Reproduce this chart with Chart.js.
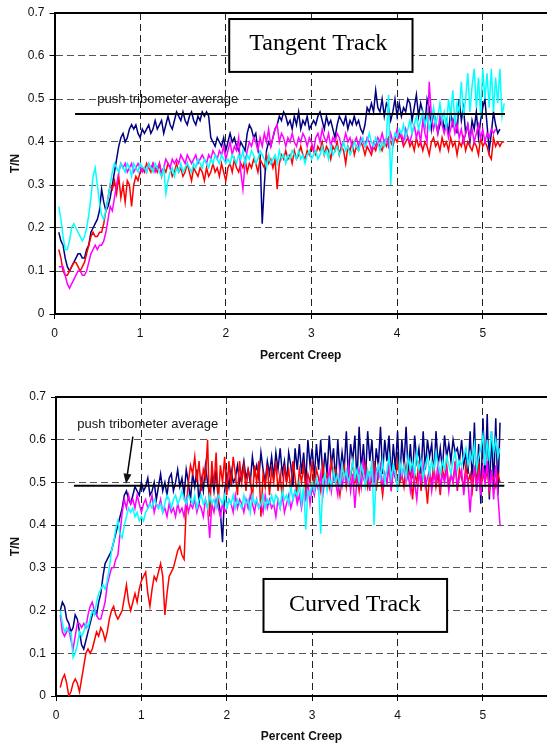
<!DOCTYPE html>
<html>
<head>
<meta charset="utf-8">
<script src="https://cdn.jsdelivr.net/npm/chart.js@4"></script>
<style>
  html, body { margin: 0; padding: 0; background: #fff; }
  .box { position: absolute; left: 0; width: 547px; height: 372px; }
</style>
</head>
<body>
<div class="box" style="top:0"><canvas id="tangent"></canvas></div>
<div class="box" style="top:372px"><canvas id="curved"></canvas></div>
<script>
// sampling of percent creep (x) for every series
const creepStart = 0.05;
const creepStep = 0.025;

// Tangent track, T/N (one row = 0.5 % creep)
const tangentNavy = [
  0.19,0.17,0.16,0.13,0.11,0.10,0.11,0.12,0.13,0.14,0.14,0.13,0.13,0.15,0.16,0.19,0.20,0.21,0.22,0.24,
  0.29,0.26,0.24,0.25,0.27,0.30,0.33,0.36,0.39,0.41,0.42,0.40,0.41,0.43,0.44,0.43,0.44,0.42,0.41,0.43,
  0.42,0.43,0.44,0.42,0.43,0.45,0.43,0.44,0.45,0.42,0.44,0.46,0.44,0.43,0.45,0.47,0.46,0.45,0.47,0.45,
  0.44,0.46,0.47,0.45,0.44,0.46,0.45,0.47,0.46,0.47,0.46,0.41,0.40,0.39,0.41,0.40,0.39,0.41,0.38,0.40,
  0.42,0.40,0.41,0.39,0.38,0.40,0.39,0.38,0.42,0.44,0.43,0.41,0.42,0.38,0.37,0.21,0.30,0.38,0.40,0.39,
  0.41,0.43,0.44,0.46,0.45,0.47,0.46,0.44,0.45,0.43,0.46,0.44,0.47,0.43,0.45,0.44,0.46,0.43,0.44,0.45,
  0.44,0.46,0.47,0.45,0.43,0.46,0.44,0.45,0.43,0.41,0.44,0.46,0.45,0.44,0.46,0.43,0.45,0.44,0.46,0.44,
  0.45,0.43,0.42,0.44,0.48,0.47,0.49,0.47,0.52,0.48,0.47,0.50,0.46,0.49,0.48,0.45,0.47,0.50,0.46,0.49,
  0.46,0.48,0.47,0.50,0.49,0.45,0.48,0.51,0.46,0.49,0.47,0.44,0.50,0.48,0.43,0.47,0.45,0.42,0.44,0.46,
  0.43,0.45,0.42,0.47,0.44,0.46,0.42,0.50,0.45,0.48,0.42,0.44,0.40,0.45,0.43,0.47,0.41,0.45,0.48,0.50,
  0.44,0.38,0.42,0.47,0.44,0.42,0.43];
const tangentMagenta = [
  0.11,0.11,0.11,0.09,0.07,0.06,0.07,0.08,0.09,0.10,0.10,0.09,0.09,0.10,0.12,0.14,0.15,0.16,0.15,0.16,
  0.16,0.17,0.19,0.22,0.25,0.24,0.27,0.30,0.33,0.35,0.34,0.35,0.33,0.34,0.35,0.33,0.34,0.35,0.34,0.33,
  0.34,0.33,0.35,0.34,0.35,0.33,0.34,0.35,0.33,0.34,0.36,0.35,0.34,0.36,0.35,0.36,0.35,0.37,0.36,0.35,
  0.37,0.36,0.35,0.36,0.37,0.35,0.36,0.37,0.36,0.35,0.37,0.36,0.38,0.37,0.36,0.38,0.37,0.39,0.36,0.38,
  0.40,0.37,0.39,0.38,0.41,0.33,0.29,0.35,0.38,0.40,0.39,0.41,0.40,0.38,0.41,0.39,0.42,0.40,0.43,0.39,
  0.41,0.43,0.44,0.40,0.42,0.41,0.39,0.41,0.40,0.42,0.40,0.39,0.41,0.40,0.42,0.41,0.39,0.41,0.40,0.38,
  0.41,0.42,0.40,0.43,0.41,0.40,0.42,0.39,0.41,0.40,0.42,0.41,0.39,0.40,0.42,0.40,0.41,0.39,0.40,0.41,
  0.39,0.41,0.40,0.39,0.41,0.40,0.38,0.40,0.39,0.41,0.40,0.42,0.40,0.41,0.39,0.42,0.40,0.41,0.43,0.41,
  0.42,0.40,0.43,0.41,0.40,0.42,0.44,0.41,0.43,0.40,0.45,0.42,0.40,0.54,0.46,0.43,0.45,0.42,0.46,0.44,
  0.42,0.44,0.41,0.43,0.45,0.42,0.44,0.41,0.43,0.40,0.42,0.44,0.41,0.43,0.40,0.42,0.44,0.41,0.43,0.40,
  0.42,0.41,0.43,0.42,0.43];
const tangentRed = [
  0.15,0.13,0.10,0.09,0.09,0.10,0.11,0.12,0.12,0.11,0.10,0.11,0.12,0.14,0.16,0.18,0.19,0.18,0.18,0.19,
  0.19,0.21,0.24,0.27,0.30,0.29,0.31,0.28,0.32,0.27,0.30,0.26,0.31,0.30,0.25,0.30,0.32,0.31,0.33,0.34,
  0.33,0.35,0.34,0.33,0.35,0.34,0.33,0.35,0.32,0.34,0.33,0.35,0.34,0.32,0.33,0.35,0.33,0.34,0.32,0.33,
  0.35,0.33,0.31,0.34,0.33,0.32,0.34,0.33,0.31,0.34,0.32,0.33,0.35,0.33,0.34,0.32,0.35,0.33,0.31,0.34,
  0.35,0.33,0.36,0.34,0.33,0.35,0.34,0.36,0.33,0.35,0.34,0.36,0.35,0.33,0.36,0.35,0.34,0.37,0.35,0.36,
  0.34,0.36,0.29,0.35,0.37,0.36,0.38,0.36,0.37,0.35,0.38,0.36,0.37,0.39,0.37,0.36,0.38,0.37,0.39,0.38,
  0.37,0.39,0.38,0.40,0.37,0.39,0.38,0.36,0.39,0.38,0.40,0.37,0.39,0.38,0.35,0.39,0.38,0.40,0.37,0.39,
  0.38,0.40,0.39,0.37,0.39,0.38,0.37,0.39,0.38,0.40,0.39,0.38,0.40,0.39,0.41,0.40,0.39,0.41,0.40,0.42,
  0.41,0.39,0.40,0.41,0.39,0.40,0.38,0.41,0.39,0.40,0.38,0.40,0.39,0.37,0.40,0.41,0.39,0.40,0.38,0.41,
  0.39,0.40,0.38,0.41,0.39,0.40,0.37,0.40,0.39,0.41,0.38,0.40,0.39,0.38,0.40,0.39,0.37,0.41,0.39,0.40,
  0.39,0.37,0.36,0.41,0.39,0.40,0.39,0.40,0.40];
const tangentCyan = [
  0.25,0.22,0.18,0.15,0.15,0.17,0.20,0.21,0.20,0.19,0.18,0.17,0.18,0.20,0.23,0.27,0.32,0.34,0.30,0.26,
  0.23,0.22,0.24,0.27,0.30,0.33,0.35,0.34,0.33,0.35,0.34,0.33,0.35,0.34,0.32,0.35,0.34,0.33,0.35,0.34,
  0.34,0.33,0.35,0.34,0.33,0.35,0.34,0.33,0.32,0.34,0.28,0.31,0.33,0.34,0.32,0.34,0.33,0.35,0.33,0.34,
  0.35,0.34,0.33,0.35,0.34,0.36,0.35,0.34,0.36,0.35,0.34,0.36,0.35,0.37,0.36,0.35,0.37,0.36,0.35,0.36,
  0.35,0.37,0.36,0.35,0.37,0.36,0.38,0.35,0.37,0.36,0.38,0.37,0.35,0.36,0.38,0.37,0.36,0.34,0.37,0.35,
  0.36,0.37,0.35,0.38,0.36,0.37,0.35,0.37,0.36,0.38,0.37,0.36,0.38,0.36,0.37,0.35,0.37,0.38,0.36,0.37,
  0.38,0.36,0.37,0.39,0.37,0.38,0.36,0.39,0.37,0.38,0.39,0.37,0.38,0.40,0.38,0.39,0.37,0.38,0.40,0.39,
  0.38,0.40,0.41,0.39,0.40,0.42,0.40,0.39,0.41,0.40,0.38,0.40,0.39,0.41,0.51,0.30,0.40,0.42,0.41,0.43,
  0.42,0.44,0.41,0.43,0.45,0.42,0.44,0.46,0.43,0.45,0.47,0.44,0.46,0.43,0.45,0.48,0.44,0.46,0.49,0.45,
  0.47,0.43,0.50,0.46,0.52,0.44,0.49,0.47,0.54,0.46,0.50,0.56,0.47,0.53,0.57,0.48,0.55,0.46,0.57,0.50,
  0.56,0.48,0.57,0.47,0.55,0.49,0.57,0.46,0.49];

// Curved track, T/N (one row = 0.5 % creep)
const curvedNavy = [
  0.20,0.22,0.21,0.18,0.17,0.15,0.16,0.19,0.18,0.15,0.12,0.11,0.13,0.15,0.17,0.19,0.20,0.19,0.22,0.24,
  0.28,0.31,0.32,0.33,0.34,0.36,0.38,0.40,0.42,0.44,0.47,0.48,0.46,0.45,0.47,0.49,0.48,0.47,0.50,0.48,
  0.49,0.51,0.47,0.48,0.50,0.46,0.49,0.52,0.48,0.50,0.47,0.51,0.52,0.48,0.50,0.53,0.49,0.51,0.47,0.53,
  0.50,0.46,0.52,0.49,0.53,0.45,0.51,0.48,0.54,0.50,0.47,0.52,0.48,0.53,0.46,0.43,0.36,0.48,0.52,0.49,
  0.53,0.50,0.51,0.54,0.50,0.52,0.55,0.51,0.53,0.50,0.56,0.52,0.54,0.51,0.57,0.53,0.50,0.55,0.52,0.56,
  0.51,0.57,0.53,0.58,0.52,0.55,0.50,0.57,0.54,0.49,0.58,0.53,0.59,0.52,0.57,0.50,0.60,0.54,0.58,0.51,
  0.59,0.53,0.60,0.51,0.57,0.52,0.61,0.54,0.58,0.50,0.60,0.52,0.57,0.53,0.62,0.51,0.59,0.55,0.61,0.50,
  0.63,0.53,0.59,0.51,0.62,0.55,0.60,0.50,0.58,0.54,0.63,0.52,0.60,0.55,0.61,0.51,0.59,0.53,0.62,0.50,
  0.60,0.54,0.63,0.52,0.59,0.51,0.61,0.55,0.58,0.52,0.62,0.53,0.60,0.56,0.59,0.51,0.62,0.54,0.58,0.53,
  0.61,0.56,0.59,0.55,0.60,0.57,0.58,0.55,0.60,0.54,0.57,0.52,0.62,0.50,0.64,0.48,0.59,0.45,0.65,0.51,
  0.66,0.46,0.62,0.49,0.65,0.47,0.64];
const curvedMagenta = [
  0.19,0.15,0.14,0.15,0.16,0.13,0.11,0.14,0.17,0.17,0.16,0.17,0.16,0.19,0.21,0.22,0.20,0.19,0.18,0.18,
  0.20,0.22,0.26,0.28,0.30,0.30,0.32,0.33,0.38,0.43,0.46,0.44,0.47,0.45,0.46,0.44,0.47,0.45,0.43,0.45,
  0.46,0.44,0.45,0.47,0.43,0.45,0.44,0.46,0.43,0.44,0.42,0.45,0.43,0.44,0.42,0.45,0.43,0.44,0.42,0.46,
  0.43,0.45,0.44,0.46,0.43,0.45,0.44,0.42,0.46,0.44,0.37,0.45,0.43,0.46,0.44,0.42,0.45,0.43,0.44,0.46,
  0.45,0.43,0.47,0.44,0.46,0.45,0.43,0.46,0.44,0.47,0.45,0.43,0.46,0.44,0.45,0.43,0.47,0.44,0.46,0.44,
  0.45,0.42,0.46,0.44,0.47,0.43,0.45,0.47,0.44,0.46,0.48,0.45,0.47,0.44,0.48,0.46,0.50,0.45,0.49,0.47,
  0.50,0.48,0.52,0.47,0.51,0.49,0.53,0.48,0.52,0.50,0.47,0.53,0.49,0.52,0.50,0.54,0.48,0.52,0.44,0.51,
  0.53,0.49,0.55,0.51,0.52,0.48,0.55,0.50,0.53,0.51,0.54,0.49,0.52,0.50,0.55,0.48,0.53,0.51,0.49,0.53,
  0.51,0.54,0.50,0.52,0.48,0.53,0.50,0.46,0.52,0.50,0.54,0.49,0.51,0.53,0.48,0.52,0.50,0.55,0.49,0.52,
  0.50,0.53,0.48,0.52,0.50,0.54,0.49,0.51,0.53,0.47,0.52,0.50,0.43,0.51,0.53,0.49,0.52,0.47,0.54,0.50,
  0.55,0.48,0.53,0.46,0.54,0.47,0.40];
const curvedRed = [
  0.02,0.04,0.05,0.03,0.00,0.01,0.03,0.04,0.03,0.01,0.04,0.07,0.10,0.11,0.10,0.11,0.13,0.15,0.14,0.16,
  0.15,0.13,0.15,0.18,0.20,0.21,0.19,0.18,0.19,0.20,0.23,0.26,0.22,0.20,0.22,0.24,0.22,0.25,0.27,0.28,
  0.29,0.24,0.21,0.25,0.28,0.27,0.29,0.31,0.28,0.19,0.24,0.28,0.29,0.30,0.32,0.34,0.35,0.33,0.32,0.44,
  0.50,0.54,0.52,0.56,0.50,0.55,0.48,0.53,0.51,0.60,0.42,0.55,0.49,0.57,0.45,0.54,0.50,0.56,0.47,0.55,
  0.49,0.56,0.52,0.47,0.55,0.50,0.54,0.48,0.53,0.51,0.46,0.54,0.50,0.55,0.42,0.52,0.49,0.54,0.47,0.53,
  0.50,0.55,0.48,0.52,0.46,0.54,0.50,0.53,0.48,0.55,0.51,0.47,0.53,0.50,0.54,0.48,0.52,0.50,0.55,0.49,
  0.53,0.51,0.48,0.54,0.50,0.52,0.49,0.55,0.51,0.53,0.50,0.47,0.52,0.54,0.49,0.53,0.51,0.55,0.50,0.52,
  0.48,0.53,0.51,0.54,0.49,0.52,0.50,0.55,0.48,0.53,0.51,0.47,0.52,0.50,0.54,0.49,0.53,0.51,0.55,0.50,
  0.52,0.49,0.54,0.51,0.53,0.46,0.52,0.50,0.55,0.48,0.53,0.51,0.45,0.52,0.50,0.54,0.49,0.52,0.47,0.53,
  0.51,0.54,0.49,0.52,0.50,0.55,0.48,0.53,0.51,0.49,0.54,0.50,0.52,0.48,0.53,0.50,0.55,0.49,0.52,0.50,
  0.53,0.48,0.52,0.51,0.49,0.52,0.50];
const curvedCyan = [
  0.20,0.17,0.15,0.16,0.15,0.15,0.09,0.10,0.12,0.15,0.14,0.15,0.17,0.16,0.18,0.20,0.19,0.22,0.24,0.25,
  0.26,0.25,0.27,0.30,0.34,0.36,0.39,0.41,0.38,0.37,0.40,0.42,0.44,0.43,0.44,0.42,0.43,0.41,0.42,0.41,
  0.43,0.44,0.45,0.44,0.46,0.45,0.44,0.45,0.43,0.45,0.47,0.46,0.44,0.46,0.47,0.45,0.46,0.48,0.46,0.45,
  0.47,0.46,0.45,0.47,0.44,0.46,0.47,0.45,0.46,0.44,0.47,0.45,0.46,0.44,0.47,0.46,0.45,0.47,0.44,0.46,
  0.45,0.47,0.44,0.46,0.45,0.44,0.47,0.45,0.46,0.43,0.47,0.45,0.46,0.44,0.45,0.47,0.44,0.46,0.45,0.47,
  0.45,0.47,0.46,0.44,0.48,0.46,0.47,0.45,0.49,0.46,0.48,0.47,0.50,0.45,0.49,0.39,0.48,0.47,0.50,0.48,
  0.51,0.49,0.38,0.50,0.52,0.48,0.51,0.49,0.53,0.50,0.52,0.49,0.54,0.51,0.53,0.50,0.52,0.55,0.51,0.53,
  0.50,0.54,0.52,0.49,0.53,0.51,0.55,0.40,0.52,0.54,0.51,0.55,0.50,0.53,0.56,0.51,0.54,0.52,0.48,0.55,
  0.52,0.54,0.51,0.56,0.53,0.55,0.52,0.57,0.53,0.55,0.51,0.54,0.56,0.52,0.55,0.53,0.57,0.54,0.52,0.55,
  0.53,0.56,0.54,0.52,0.55,0.57,0.53,0.55,0.54,0.56,0.58,0.54,0.57,0.55,0.59,0.53,0.56,0.58,0.61,0.54,
  0.60,0.55,0.62,0.57,0.60,0.56,0.58];

// push tribometer average lines [x from, x to, T/N]
const tangentAverage = [0.24, 5.26, 0.465];
const curvedAverage = [0.21, 5.25, 0.492];

const yTicks = [0, 0.1, 0.2, 0.3, 0.4, 0.5, 0.6, 0.7];
const xTicks = [0, 1, 2, 3, 4, 5];

function toPoints(values) {
  return values.map((v, i) => ({ x: +(creepStart + i * creepStep).toFixed(3), y: v }));
}

function series(values, color) {
  return {
    data: toPoints(values),
    borderColor: color,
    borderWidth: 1.5,
    pointRadius: 0,
    tension: 0,
  };
}

// boxes, labels and the arrow, placed in data units
const notes = {
  id: "notes",
  afterDraw(chart, args, opts) {
    const { ctx, chartArea, scales } = chart;
    const px = (v) => scales.x.getPixelForValue(v);
    const py = (v) => scales.y.getPixelForValue(v);
    ctx.save();
    // top frame line
    ctx.strokeStyle = "#000";
    ctx.lineWidth = 2;
    ctx.beginPath();
    ctx.moveTo(chartArea.left, chartArea.top);
    ctx.lineTo(chartArea.right, chartArea.top);
    ctx.stroke();

    const b = opts.box;
    const x1 = px(b.x1), x2 = px(b.x2), y1 = py(b.y1), y2 = py(b.y2);
    ctx.fillStyle = "#fff";
    ctx.fillRect(x1, y1, x2 - x1, y2 - y1);
    ctx.lineWidth = 2;
    ctx.strokeRect(x1, y1, x2 - x1, y2 - y1);
    ctx.fillStyle = "#000";
    ctx.font = "24px 'Liberation Serif', 'Times New Roman', serif";
    ctx.textAlign = "center";
    ctx.textBaseline = "middle";
    ctx.fillText(b.text, px(b.tx), py(b.ty));

    ctx.font = "13px 'Liberation Sans', Arial, sans-serif";
    ctx.textAlign = "left";
    ctx.fillStyle = "#111";
    ctx.fillText("push tribometer average", px(opts.label.x), py(opts.label.y));

    if (opts.arrow) {
      const a = opts.arrow;
      const ax1 = px(a.x1), ay1 = py(a.y1), ax2 = px(a.x2), ay2 = py(a.y2);
      const ang = Math.atan2(ay2 - ay1, ax2 - ax1);
      ctx.strokeStyle = "#000";
      ctx.lineWidth = 1.5;
      ctx.beginPath();
      ctx.moveTo(ax1, ay1);
      ctx.lineTo(ax2 - 8 * Math.cos(ang), ay2 - 8 * Math.sin(ang));
      ctx.stroke();
      ctx.beginPath();
      ctx.moveTo(ax2, ay2);
      ctx.lineTo(ax2 - 10 * Math.cos(ang) + 4 * Math.sin(ang), ay2 - 10 * Math.sin(ang) - 4 * Math.cos(ang));
      ctx.lineTo(ax2 - 10 * Math.cos(ang) - 4 * Math.sin(ang), ay2 - 10 * Math.sin(ang) + 4 * Math.cos(ang));
      ctx.closePath();
      ctx.fill();
    }
    ctx.restore();
  },
};

function makeChart(id, sets, average, dims, noteOpts) {
  const font = { family: "'Liberation Sans', Arial, sans-serif", size: 12 };
  return new Chart(document.getElementById(id), {
    type: "line",
    data: {
      datasets: [
        {
          data: [{ x: average[0], y: average[2] }, { x: average[1], y: average[2] }],
          borderColor: "#000",
          borderWidth: 2,
          pointRadius: 0,
        },
        series(sets.cyan, "#00FFFF"),
        series(sets.magenta, "#FF00FF"),
        series(sets.red, "#FF0000"),
        series(sets.navy, "#000080"),
      ],
    },
    options: {
      responsive: true,
      maintainAspectRatio: false,
      animation: false,
      layout: { padding: { top: dims.top, right: 0, left: 0, bottom: 0 } },
      plugins: { legend: { display: false }, tooltip: { enabled: false }, notes: noteOpts },
      scales: {
        x: {
          type: "linear",
          min: 0,
          max: 5.75,
          afterBuildTicks: (s) => { s.ticks = xTicks.map((v) => ({ value: v })); },
          afterFit: (s) => { s.height = dims.xh; },
          ticks: { font, color: "#111", padding: 7, maxRotation: 0, callback: (v) => String(v) },
          grid: { color: "#222", lineWidth: 1, tickLength: 5, tickColor: "#000", tickBorderDash: [] },
          border: { color: "#000", width: 2, dash: [7, 4] },
          title: {
            display: true,
            text: "Percent Creep",
            color: "#111",
            font: { family: font.family, size: 12, weight: "bold" },
            padding: { top: 0, bottom: dims.titlePad },
          },
        },
        y: {
          min: 0,
          max: 0.7,
          afterBuildTicks: (s) => { s.ticks = yTicks.map((v) => ({ value: v })); },
          afterFit: (s) => { s.width = dims.yw; },
          ticks: { font, color: "#111", padding: 5, callback: (v) => String(v) },
          grid: { color: "#555", lineWidth: 1, tickLength: 5, tickColor: "#000", tickBorderDash: [] },
          border: { color: "#000", width: 2, dash: [7, 4] },
          title: {
            display: true,
            text: "T/N",
            color: "#111",
            font: { family: font.family, size: 12, weight: "bold" },
            padding: { top: 8, bottom: 0 },
          },
        },
      },
    },
    plugins: [notes],
  });
}

makeChart(
  "tangent",
  { navy: tangentNavy, magenta: tangentMagenta, red: tangentRed, cyan: tangentCyan },
  tangentAverage,
  { top: 13, xh: 58, yw: 54.5, titlePad: 9 },
  {
    box: { x1: 2.04, x2: 4.18, y1: 0.686, y2: 0.563, text: "Tangent Track", tx: 3.08, ty: 0.628 },
    label: { x: 0.5, y: 0.498 },
  }
);

makeChart(
  "curved",
  { navy: curvedNavy, magenta: curvedMagenta, red: curvedRed, cyan: curvedCyan },
  curvedAverage,
  { top: 25, xh: 48, yw: 56, titlePad: 0 },
  {
    box: { x1: 2.43, x2: 4.58, y1: 0.274, y2: 0.15, text: "Curved Track", tx: 3.5, ty: 0.213 },
    label: { x: 0.25, y: 0.635 },
    arrow: { x1: 0.9, y1: 0.607, x2: 0.82, y2: 0.497 },
  }
);
</script>
</body>
</html>
